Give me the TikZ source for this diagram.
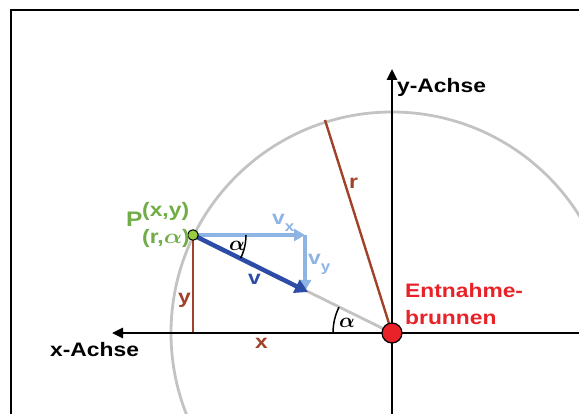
\documentclass[tikz,border=0pt]{standalone}
\usepackage{amsmath}
\usepackage{fontspec}
\setmainfont{Liberation Sans}
\usetikzlibrary{arrows.meta}
\newcommand{\sx}[1]{\scalebox{1.17}[1]{#1}}
\definecolor{cbrown}{RGB}{160,66,42}
\definecolor{cgray}{RGB}{195,195,195}
\definecolor{cred}{RGB}{232,34,40}
\definecolor{cgreen}{RGB}{112,173,71}
\definecolor{cyg}{RGB}{155,205,60}
\definecolor{clblue}{RGB}{142,180,227}
\definecolor{cdblue}{RGB}{44,76,165}
\tikzset{
  lbl/.style={anchor=base west, inner sep=0pt, font=\fontsize{19.5}{23}\selectfont\bfseries},
  axis/.style={line width=2.6pt, -{Triangle[length=11pt,width=10pt]}},
  brownline/.style={cbrown, line width=2.4pt},
  compvec/.style={clblue, line width=3.5pt, -{Triangle[length=11pt,width=12pt]}},
  mainvec/.style={cdblue, line width=4.5pt, -{Triangle[length=13pt,width=14pt]}},
  anglearc/.style={black, line width=1.5pt},
  origin/.style={circle, draw=black, line width=1.2pt, fill=cred, minimum size=20pt, inner sep=0pt},
  pdot/.style={circle, draw=black, line width=1pt, fill=cyg, minimum size=10.5pt, inner sep=0pt}
}
\begin{document}
\begin{tikzpicture}[x=1pt,y=-1pt]
\useasboundingbox (0,0) rectangle (579,414);
\clip (0,0) rectangle (579,414);
% frame
\draw[line width=2.4pt] (11,430) -- (11,10) -- (600,10);
% key points
\coordinate (o) at (392,333);
\coordinate (p) at (193,235);
\coordinate (foot) at (193,333);
\coordinate (rend) at (325,120);
\coordinate (vx) at (305,235);
\coordinate (vy) at (305,291);
\coordinate (vt) at (308,292);
\coordinate (ytop) at (392,69);
\coordinate (ybot) at (392,430);
\coordinate (xleft) at (112,333);
\coordinate (xright) at (600,333);
% circle
\draw[cgray, line width=2.8pt] (o) circle [radius=221pt];
% gray ray P -> O
\draw[cgray, line width=2.8pt] (p) -- (o);
% brown lines
\draw[brownline] (p) -- (foot) -- (o);
\draw[brownline] (o) -- (rend);
% axes
\draw[axis] (ybot) -- (ytop);
\draw[axis] (xright) -- (xleft);
% vectors
\draw[compvec] (p) -- (vx);
\draw[compvec] (vx) -- (vy);
\draw[mainvec] (p) -- (vt);
% angle arcs
\draw[anglearc] ([shift={(0:53pt)}]p) arc[start angle=0, end angle=-26.1, radius=53pt];
\draw[anglearc] ([shift={(180:59pt)}]o) arc[start angle=180, end angle=153.9, radius=59pt];
% dots
\node[origin] (O) at (o) {};
\node[pdot] (P) at (p) {};
% labels
\node[lbl] (ylab) at (397,93) {\sx{y-Achse}};
\node[lbl] (xlab) at (50,356) {\sx{x-Achse}};
\node[lbl, text=cred] (ent1) at (405,298) {\sx{Entnahme-}};
\node[lbl, text=cred] (ent2) at (405,325) {\sx{brunnen}};
\node[lbl, text=cgreen, font=\fontsize{21}{23}\selectfont\bfseries] (Plab) at (126,227) {\sx{P}};
\node[lbl, text=cgreen] (Psup) at (142,217) {\sx{(x,y)}};
\node[lbl, text=cgreen] (Psub) at (142,244) {\sx{(r,$\boldsymbol{\alpha}$)}};
\node[lbl, text=cbrown] (ylen) at (178,304) {\sx{y}};
\node[lbl, text=cbrown] (xlen) at (255,349) {\sx{x}};
\node[lbl, text=cbrown] (rlen) at (349,189) {\sx{r}};
\node[lbl, text=cdblue] (vlab) at (248,285) {\sx{v}};
\node[lbl, text=clblue] (vxlab) at (272,225) {\sx{v}\raisebox{-7pt}{\fontsize{14.5}{14}\selectfont\sx{x}}};
\node[lbl, text=clblue] (vylab) at (308,265) {\sx{v}\raisebox{-7pt}{\fontsize{14.5}{14}\selectfont\sx{y}}};
\node[lbl, font=\fontsize{22}{23}\selectfont] (a1) at (229,251) {$\boldsymbol{\alpha}$};
\node[lbl, font=\fontsize{22}{23}\selectfont] (a2) at (339,328) {$\boldsymbol{\alpha}$};
\end{tikzpicture}
\end{document}
